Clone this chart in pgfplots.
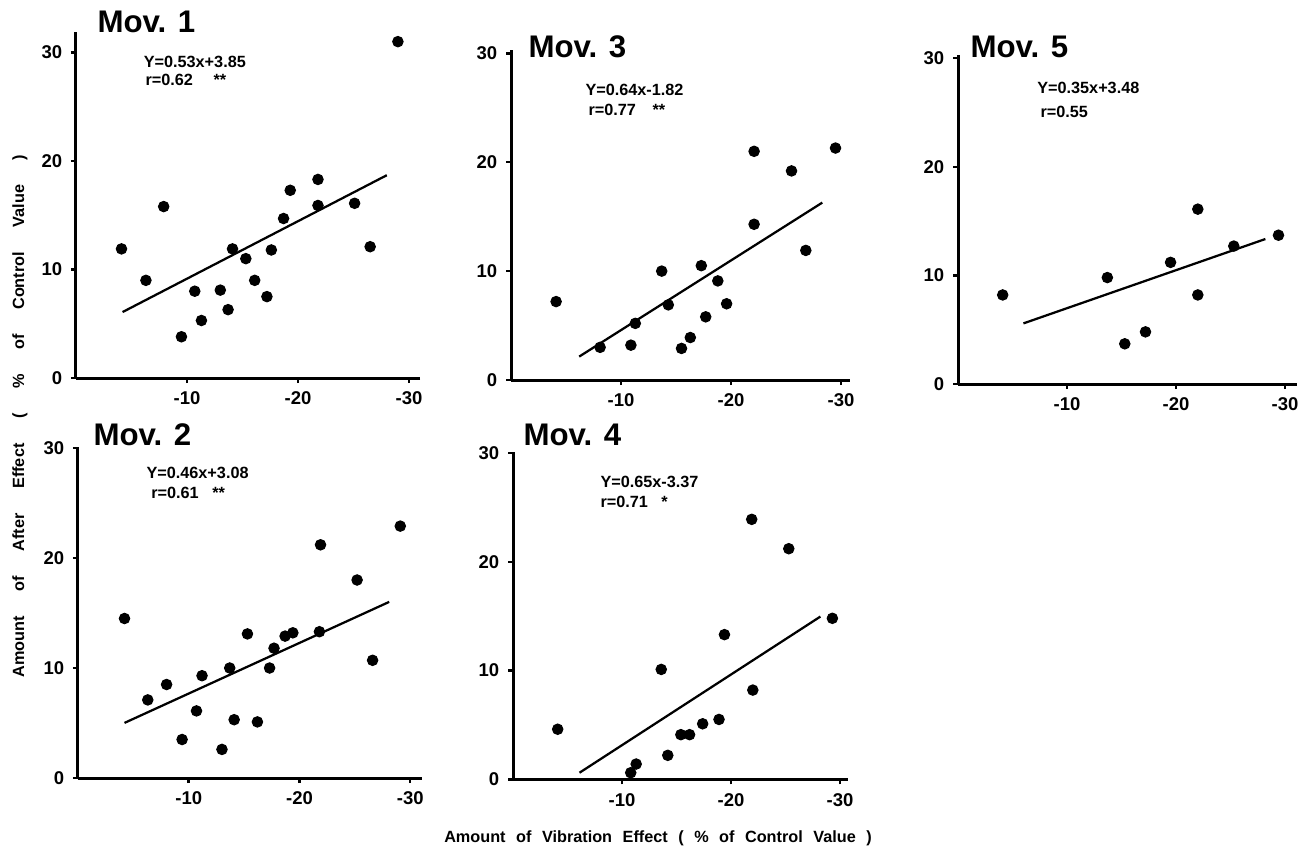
\documentclass[border=0pt]{standalone}
\usepackage{fontspec}
\setmainfont{Liberation Sans}
\usepackage{pgfplots}
\pgfplotsset{compat=1.18}

% one style for all five panels; x values are negative, drawn reversed
\pgfplotsset{
  panel/.style={
    x dir=reverse, axis lines=left, axis line style={-, line width=1.2pt},
    anchor=south west, xmax=0, ymin=0, clip=false,
    xtick={-10,-20,-30}, xticklabels={-10,-20,-30},
    ytick={0,10,20,30}, yticklabels={0,10,20,30},
    tick align=outside, major tick length=2pt,
    tick style={line width=1pt, black},
    tick label style={font=\fontsize{7.4}{8}\selectfont\bfseries},
  },
  dots/.style={only marks, mark=*, mark size=2.1pt, black, mark options={fill=black}},
  fit/.style={no markers, black, line width=0.9pt},
}
\newcommand{\ttl}{\fontsize{12.5}{14}\selectfont\bfseries}
\newcommand{\ann}{\fontsize{6.5}{7}\selectfont\bfseries}

\begin{document}
\begin{tikzpicture}
\path[use as bounding box] (0,0) rectangle (524pt,340.8pt);

% Mov. 1
\begin{axis}[panel, at={(30.4pt,189.6pt)}, x=4.44pt, y=4.34pt, xmin=-31, ymax=31.9]
\addplot[dots] coordinates {
  (-4.1,11.9) (-6.3,9.0) (-7.9,15.8) (-9.5,3.8) (-10.7,8.0) (-11.3,5.3) (-13.0,8.1)
  (-13.7,6.3) (-14.1,11.9) (-15.3,11.0) (-16.1,9.0) (-17.2,7.5) (-17.6,11.8) (-18.7,14.7)
  (-19.3,17.3) (-21.8,18.3) (-21.8,15.9) (-25.1,16.1) (-26.5,12.1) (-29.0,31.0)};
\addplot[fit] coordinates {(-4.2,6.08) (-28.0,18.69)};
\end{axis}

% Mov. 3
\begin{axis}[panel, at={(204.4pt,188.8pt)}, x=4.4pt, y=4.356pt, xmin=-30.8, ymax=30.3]
\addplot[dots] coordinates {
  (-4.1,7.2) (-8.1,3.0) (-10.9,3.2) (-11.3,5.2) (-13.7,10.0) (-14.3,6.9) (-15.5,2.9)
  (-16.3,3.9) (-17.3,10.5) (-17.7,5.8) (-18.8,9.1) (-19.6,7.0) (-22.1,21.0) (-22.1,14.3)
  (-25.5,19.2) (-26.8,11.9) (-29.5,21.3)};
\addplot[fit] coordinates {(-6.2,2.15) (-28.3,16.29)};
\end{axis}

% Mov. 5
\begin{axis}[panel, at={(383.2pt,187.2pt)}, x=4.36pt, y=4.344pt, xmin=-31.07, ymax=30.3]
\addplot[dots] coordinates {
  (-4.1,8.2) (-13.7,9.8) (-15.3,3.7) (-17.2,4.8) (-19.5,11.2) (-22.0,16.1) (-22.0,8.2)
  (-25.3,12.7) (-29.4,13.7)};
\addplot[fit] coordinates {(-6.0,5.58) (-28.2,13.35)};
\end{axis}

% Mov. 2
\begin{axis}[panel, at={(31.2pt,29.6pt)}, x=4.43pt, y=4.4pt, xmin=-31.05, ymax=30.1]
\addplot[dots] coordinates {
  (-4.2,14.5) (-6.3,7.1) (-8.0,8.5) (-9.4,3.5) (-10.7,6.1) (-11.2,9.3) (-13.0,2.6)
  (-13.7,10.0) (-14.1,5.3) (-15.3,13.1) (-16.2,5.1) (-17.3,10.0) (-17.7,11.8) (-18.7,12.9)
  (-19.4,13.2) (-21.9,21.2) (-21.8,13.3) (-25.2,18.0) (-26.6,10.7) (-29.1,22.9)};
\addplot[fit] coordinates {(-4.2,5.01) (-28.1,16.01)};
\end{axis}

% Mov. 4
\begin{axis}[panel, at={(205.2pt,29.1pt)}, x=4.36pt, y=4.35pt, xmin=-30.7, ymax=30.1]
\addplot[dots] coordinates {
  (-4.1,4.6) (-10.8,0.6) (-11.3,1.4) (-13.6,10.1) (-14.2,2.2) (-15.4,4.1) (-16.2,4.1)
  (-17.4,5.1) (-18.9,5.5) (-19.4,13.3) (-21.9,23.9) (-22.0,8.2) (-25.3,21.2) (-29.3,14.8)};
\addplot[fit] coordinates {(-6.1,0.60) (-28.2,14.96)};
\end{axis}

% titles
\node[anchor=west, inner sep=0] at (38.8pt,332pt) {\ttl Mov. 1};
\node[anchor=west, inner sep=0] at (211.2pt,322pt) {\ttl Mov. 3};
\node[anchor=west, inner sep=0] at (388pt,322pt) {\ttl Mov. 5};
\node[anchor=west, inner sep=0] at (37.2pt,166.8pt) {\ttl Mov. 2};
\node[anchor=west, inner sep=0] at (209.2pt,166.8pt) {\ttl Mov. 4};

% regression notes
\node[anchor=west, inner sep=0] at (57.3pt,316pt) {\ann Y=0.53x+3.85};
\node[anchor=west, inner sep=0] at (58pt,308.8pt) {\ann r=0.62};
\node[anchor=west, inner sep=0] at (85.2pt,308.8pt) {\ann **};
\node[anchor=west, inner sep=0] at (234pt,304.8pt) {\ann Y=0.64x-1.82};
\node[anchor=west, inner sep=0] at (235.2pt,296.8pt) {\ann r=0.77};
\node[anchor=west, inner sep=0] at (260.8pt,296.8pt) {\ann **};
\node[anchor=west, inner sep=0] at (414.7pt,305.5pt) {\ann Y=0.35x+3.48};
\node[anchor=west, inner sep=0] at (416pt,296.1pt) {\ann r=0.55};
\node[anchor=west, inner sep=0] at (58.4pt,151.5pt) {\ann Y=0.46x+3.08};
\node[anchor=west, inner sep=0] at (60.3pt,143.5pt) {\ann r=0.61};
\node[anchor=west, inner sep=0] at (84.7pt,143.5pt) {\ann **};
\node[anchor=west, inner sep=0] at (240pt,148.1pt) {\ann Y=0.65x-3.37};
\node[anchor=west, inner sep=0] at (240pt,140.1pt) {\ann r=0.71};
\node[anchor=west, inner sep=0] at (264.3pt,140.1pt) {\ann *};

% shared axis labels
\node[rotate=90, inner sep=0] at (8pt,174.4pt)
  {\ann\makebox[209pt][s]{Amount of After Effect ( \% of Control Value )}};
\node[inner sep=0] at (263.2pt,5.6pt)
  {\ann\makebox[171pt][s]{Amount of Vibration Effect ( \% of Control Value )}};
\end{tikzpicture}
\end{document}
